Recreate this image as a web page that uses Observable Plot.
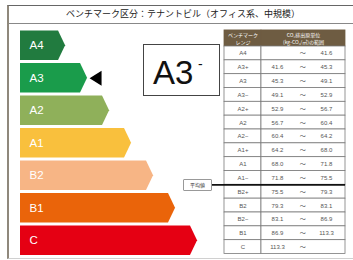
<!DOCTYPE html>
<html><head><meta charset="utf-8">
<script src="https://cdn.jsdelivr.net/npm/d3@7"></script>
<script src="https://cdn.jsdelivr.net/npm/@observablehq/plot@0.6"></script>
<style>
body{margin:0;background:#fff;}
#wrap{position:relative;width:353px;height:260px;overflow:hidden;background:#fff;font-family:"Liberation Sans",Arial,sans-serif;}
#frame{position:absolute;left:7px;top:5px;width:400px;height:252px;border-left:2px solid #8f887c;border-top:1px solid #666;border-bottom:1px solid #d0d0d0;}
#titleLine{position:absolute;left:9px;top:23px;width:344px;border-top:1px solid #888;}
#title{position:absolute;left:0;top:6px;width:366px;text-align:center;font-family:"Noto Sans CJK JP";font-size:9px;line-height:16px;color:#222;}
#rating{position:absolute;left:143px;top:44px;width:75px;height:50px;border:1px solid #444;background:#fff;}
#rating .main{position:absolute;left:9px;top:11px;font-size:33px;line-height:33px;color:#111;}
#rating .sup{position:absolute;left:54px;top:12px;font-size:14px;line-height:14px;color:#111;}
#avg{position:absolute;left:183px;top:179px;width:27px;height:10px;border:1px solid #999;border-radius:1px;background:#fff;font-family:"Noto Sans CJK JP";font-size:5px;line-height:10px;text-align:center;color:#333;}
#main,#table{position:absolute;top:0;}
#main{left:0;}
#table{left:212px;width:141px;}
</style></head>
<body>
<div id="wrap">
  <div id="frame"></div>
  <div id="titleLine"></div>
  <div id="title"></div>
  <div id="main"></div>
  <div id="table"></div>
  <div id="rating"><span class="main"></span><span class="sup"></span></div>
  <div id="avg"></div>
</div>
<script>
// ---- data ----
const chartTitle = "ベンチマーク区分：テナントビル（オフィス系、中規模）";
const levels = ["A4","A3","A2","A1","B2","B1","C"];
const levelColors = ["#217b3f","#1a9c4b","#8fb05a","#f9c03d","#f7b585","#ea640a","#e50013"];
const barSteps = [1,2,3,4,5,6,7];
const ratingLevel = "A3";
const ratingSuffix = "-";
const averageLabel = "平均値";
const averageValue = 75.5;

const tableRows = ["A4","A3+","A3","A3−","A2+","A2","A2−","A1+","A1","A1−","B2+","B2","B2−","B1","C"];
const lowerBounds = [null,41.6,45.3,49.1,52.9,56.7,60.4,64.2,68.0,71.8,75.5,79.3,83.1,86.9,113.3];
const upperBounds = [41.6,45.3,49.1,52.9,56.7,60.4,64.2,68.0,71.8,75.5,79.3,83.1,86.9,113.3,null];
const headerTexts = ["ベンチマーク\nレンジ", "CO₂排出原単位\n(kg-CO₂/㎡)の範囲"];
const rangeSign = "〜";

// ---- text annotations ----
document.getElementById("title").textContent = chartTitle;
document.querySelector("#rating .main").textContent = ratingLevel;
document.querySelector("#rating .sup").textContent = ratingSuffix;
document.getElementById("avg").textContent = averageLabel;

// ---- bar chart ----
const barBase = -0.73, tip = 0.32, half = 0.454;
const bars = levels.map((level, i) => ({level, i, len: barSteps[i], color: levelColors[i]}));
const outline = bars.flatMap(b => [
  {level: b.level, color: b.color, y: b.i - half, x: b.len},
  {level: b.level, color: b.color, y: b.i, x: b.len + tip},
  {level: b.level, color: b.color, y: b.i + half, x: b.len}
]);
const rated = bars.filter(b => b.level === ratingLevel);
const leftTriangle = {draw(ctx){ ctx.moveTo(0,0); ctx.lineTo(12,-7.5); ctx.lineTo(12,7.5); ctx.closePath(); }};

const mainPlot = Plot.plot({
  width: 222, height: 260,
  marginLeft: 0, marginRight: 0, marginTop: 0, marginBottom: 0,
  axis: null,
  x: {domain: [barBase, 7], range: [20, 190]},
  y: {domain: [-0.5, 6.5], range: [29, 256.5]},
  style: {background: "transparent", fontFamily: "'Liberation Sans', Arial, sans-serif"},
  marks: [
    Plot.areaX(outline, {y: "y", x1: barBase, x2: "x", z: "level", fill: "color", curve: "linear"}),
    Plot.text(bars, {x: barBase, y: "i", text: "level", dx: 9, textAnchor: "start", fill: "white", fontSize: 11.5}),
    Plot.dot(rated, {x: d => d.len + tip, y: "i", dx: 2, symbol: leftTriangle, fill: "black", stroke: "none"})
  ]
});
document.getElementById("main").append(mainPlot);

// ---- table ----
// column layout (in column units): range label column [0, C1], value column [C1, C2]
const C1 = 1.32, C2 = 4.32, colLo = 1.89, colSign = 2.79, colHi = 3.64, headTop = -1.16;
const rows = tableRows.map((r, i) => ({r, i, lo: lowerBounds[i], hi: upperBounds[i]}));
const header = headerTexts.map((t, k) => ({t, x1: k === 0 ? 0 : C1, x2: k === 0 ? C1 : C2, cx: k === 0 ? C1 / 2 : (C1 + C2) / 2}));
const avgIndex = lowerBounds.indexOf(averageValue);
const fmt = v => v == null ? "" : v.toFixed(1);

const tablePlot = Plot.plot({
  width: 141, height: 260,
  marginLeft: 0, marginRight: 8, marginTop: 0, marginBottom: 0,
  axis: null,
  x: {type: "linear", domain: [0, C2], range: [12, 133]},
  y: {type: "linear", domain: [0, 15], range: [46, 253.5]},
  style: {background: "transparent", fontFamily: "'Liberation Sans', Arial, sans-serif"},
  marks: [
    Plot.rect(header, {x1: "x1", x2: "x2", y1: () => headTop, y2: () => 0, fill: "#6e5c42", stroke: "#6e5c42", strokeWidth: 0.8}),
    Plot.rect(rows, {x1: () => 0, x2: () => C1, y1: "i", y2: d => d.i + 1, fill: "white", stroke: "#7a7a7a", strokeWidth: 0.8}),
    Plot.rect(rows, {x1: () => C1, x2: () => C2, y1: "i", y2: d => d.i + 1, fill: "white", stroke: "#7a7a7a", strokeWidth: 0.8}),
    Plot.text(header, {x: "cx", y: () => headTop / 2, text: "t", fill: "white", fontSize: 5, lineHeight: 1.25, fontFamily: "Noto Sans CJK JP"}),
    Plot.text(rows, {x: () => C1 / 2, y: d => d.i + 0.5, text: "r", fill: "#555", fontSize: 6}),
    Plot.text(rows, {x: () => colLo, y: d => d.i + 0.5, text: d => fmt(d.lo), fill: "#555", fontSize: 6}),
    Plot.text(rows, {x: () => colSign, y: d => d.i + 0.5, text: () => rangeSign, fill: "#555", fontSize: 6, fontFamily: "Noto Sans CJK JP"}),
    Plot.text(rows, {x: () => colHi, y: d => d.i + 0.5, text: d => fmt(d.hi), fill: "#555", fontSize: 6}),
    Plot.ruleY([avgIndex], {stroke: "#111", strokeWidth: 1.6})
  ]
});
document.getElementById("table").append(tablePlot);
</script>
</body></html>
